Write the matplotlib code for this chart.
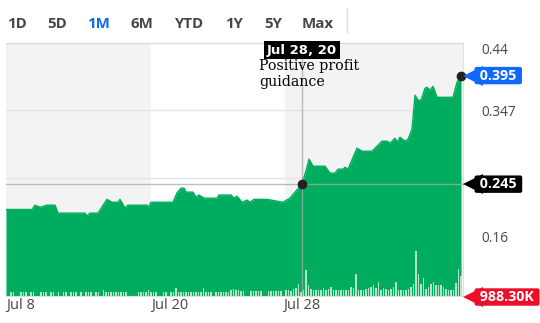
import matplotlib.pyplot as plt
import matplotlib.transforms as mtransforms
from matplotlib.lines import Line2D

# price path, x = trading-period index
t_price = [0, 10.4, 11.6, 13.6, 16.4, 19.6, 20.8, 31.6, 32.4, 33.6,
           36.8, 40.4, 42.4, 44.8, 45.6, 47.6, 48.8, 56.4, 56.8, 58,
           66.8, 68.4, 70, 71.2, 72, 74.8, 76, 77.2, 79.2, 84.4,
           85.2, 90, 91.2, 92.4, 94.4, 96.4, 97.6, 99.2, 104.4, 110.8,
           113.6, 115.6, 118.4, 120.4, 121.2, 122.8, 127.6, 129.6, 131.6, 132.8,
           134.8, 135.6, 136.8, 140.4, 142.4, 146.4, 150.4, 152.4, 153.6, 155.6,
           156.4, 157.6, 159.6, 160.8, 162.4, 163.6, 164.8, 166, 167.6, 168.4,
           169.6, 170.8, 172.4, 178.8, 180.4, 182]
price = [0.210, 0.210, 0.216, 0.213, 0.216, 0.216, 0.205, 0.205, 0.201, 0.205,
         0.205, 0.224, 0.220, 0.220, 0.224, 0.212, 0.216, 0.216, 0.212, 0.220,
         0.220, 0.233, 0.2395, 0.2395, 0.234, 0.234, 0.227, 0.230, 0.2257, 0.2257,
         0.230, 0.230, 0.2257, 0.2284, 0.220, 0.223, 0.220, 0.224, 0.224, 0.220,
         0.2257, 0.234, 0.245, 0.2684, 0.2795, 0.2698, 0.2698, 0.2602, 0.2602, 0.2657,
         0.2657, 0.2684, 0.2657, 0.2947, 0.2905, 0.2905, 0.3043, 0.3043, 0.3016, 0.3084,
         0.3029, 0.3098, 0.3043, 0.307, 0.3209, 0.3678, 0.3609, 0.3609, 0.3774, 0.3788,
         0.3747, 0.3802, 0.365, 0.365, 0.3857, 0.395]

# volume per period, thousands
volume_k = [0, 0, 180, 180, 0, 0, 180, 180, 180, 0,
            180, 180, 0, 0, 180, 180, 180, 0, 180, 180,
            0, 180, 0, 180, 180, 0, 180, 180, 180, 0,
            180, 0, 180, 180, 180, 0, 180, 180, 0, 300,
            180, 180, 180, 180, 180, 180, 180, 180, 180, 0,
            0, 0, 0, 180, 180, 180, 180, 300, 180, 180,
            180, 0, 0, 180, 180, 0, 180, 180, 380, 180,
            180, 180, 180, 180, 180, 180, 180, 180, 180, 380,
            180, 180, 180, 0, 180, 180, 180, 180, 180, 180,
            310, 360, 280, 280, 250, 250, 0, 0, 230, 230,
            230, 230, 230, 0, 0, 230, 230, 230, 230, 230,
            230, 0, 280, 280, 230, 350, 410, 580, 200, 310,
            1270, 530, 360, 280, 280, 280, 310, 410, 280, 360,
            445, 280, 280, 280, 310, 280, 280, 310, 445, 410,
            1100, 280, 280, 280, 350, 410, 445, 530, 410, 690,
            280, 410, 360, 310, 360, 445, 690, 280, 280, 280,
            280, 360, 445, 610, 2220, 1100, 610, 900, 360, 445,
            610, 690, 530, 530, 530, 445, 360, 310, 280, 280,
            640, 1350, 988.3]

range_labels = ["1D", "5D", "1M", "6M", "YTD", "1Y", "5Y", "Max"]
xtick_pos = [6, 65.6, 118.4]
xtick_labels = ["Jul 8", "Jul 20", "Jul 28"]
ytick_vals = [0.16, 0.253, 0.347, 0.44]
ytick_labels = ["0.16", "", "0.347", "0.44"]

event_x, event_y = 118.4, 0.245
event_date = "Jul 28, 20"
event_text = "Positive profit\nguidance"
last_price = 0.395
last_volume = "988.30K"

GREEN = "#00ad5f"
TXT = "#464646"
BLUE = "#0f69ff"
RED = "#eb0f29"

plt.rcParams["font.family"] = ["Open Sans", "DejaVu Sans"]

fig = plt.figure(figsize=(5.4, 3.23), dpi=100)
fig.patch.set_facecolor("white")
ax = fig.add_axes([6 / 540, 27 / 323, 457 / 540, 253 / 323])
ax.set_xlim(0, 182.8)
ax.set_ylim(0.0905, 0.44)

# shaded sessions
ax.axvspan(0, 58, color="#f3f3f3", lw=0, zorder=0)
ax.axvspan(111.6, 182.8, color="#f3f3f3", lw=0, zorder=0)

ax.fill_between(t_price, price, 0, color=GREEN, lw=0, zorder=2)
ax.plot(t_price, price, color=GREEN, lw=1, zorder=2)

ax.spines["left"].set_visible(False)
ax.spines["top"].set_color("#d8d8d8")
ax.spines["right"].set_color("#e2e2e2")
ax.spines["bottom"].set_color("#d6e4dc")

# volume on its own scale
ax2 = ax.twinx()
ax2.bar(range(len(volume_k)), volume_k, width=0.45, color="#b5e5c8", lw=0, zorder=3)
ax2.set_yticks([])
for s in ax2.spines.values():
    s.set_visible(False)

# axis ticks (after twinx, which moves ticks left)
ax.set_yticks(ytick_vals, ytick_labels)
ax.grid(axis="y", color="#e4e4e4", lw=1, zorder=0.5)
ax.set_axisbelow(True)
ax.yaxis.tick_right()
ax.tick_params(axis="y", which="both", left=False, right=False, labelleft=False,
               labelright=True, pad=10, labelsize=9.8, labelcolor=TXT)
for tk, lab in zip(ax.yaxis.get_major_ticks(), ytick_labels):
    if lab == "0.44":
        tk.label2.set_va("top")
    elif lab == "0.16":
        tk.label2.set_va("bottom")

ax.set_xticks(xtick_pos, xtick_labels)
ax.tick_params(axis="x", length=0, pad=1.5, labelsize=10.5, labelcolor=TXT)

# crosshair and markers
ax2.axvline(event_x, color="#a8a8a8", alpha=0.75, lw=1, zorder=4)
ax2.plot([0, 182.8], [event_y, event_y], color="#a8a8a8", alpha=0.75, lw=1,
         transform=ax.transData, zorder=4, clip_on=False)
ax2.plot([event_x], [event_y], "o", ms=6, color="#222222", transform=ax.transData, zorder=5)
ax2.plot([t_price[-1]], [price[-1]], "o", ms=6, color="#222222", transform=ax.transData,
         zorder=5, clip_on=False)
ax2.set_xlim(0, 182.8)
ax2.set_ylim(0, 12500)

trans = mtransforms.blended_transform_factory(ax.transData, ax.transAxes)
ax2.text(event_x, 0.972, event_date, transform=trans, ha="center", va="center",
         color="white", fontsize=9.5, weight="bold", family=["Liberation Sans Narrow", "DejaVu Sans"],
         bbox=dict(boxstyle="square,pad=0.2", fc="black", ec="none"), zorder=6, clip_on=False)
fig.text(259 / 540, 1 - 59 / 323, event_text, family="DejaVu Serif", fontsize=10.2,
         va="top", ha="left", linespacing=1.15, color="black")

# right side tags
ytr = ax.get_yaxis_transform()
def tag(y, text, color, trans_):
    ax2.plot([1.021], [y], marker="<", ms=15, color=color, transform=trans_,
             clip_on=False, zorder=6, mew=0)
    ax2.text(1.029, y, " " + text + " ", transform=trans_, ha="left", va="center",
             color="white", fontsize=10.3, weight="bold",
             bbox=dict(boxstyle="round,pad=0.12,rounding_size=0.15", fc=color, ec="none"),
             clip_on=False, zorder=7)

tag(last_price, "%.3f" % last_price, BLUE, ytr)
tag(event_y, "%.3f" % event_y, "black", ytr)
tag(-0.004, last_volume, RED, ax.transAxes)

# range selector
range_x = [17, 57, 99, 142, 189, 234, 273, 318]
for lab, xp in zip(range_labels, range_x):
    fig.text(xp / 540, 1 - 28 / 323, lab, ha="center", va="baseline", fontsize=10.8,
             weight="bold", color=BLUE if lab == "1M" else TXT)
fig.add_artist(Line2D([347 / 540, 347 / 540], [1 - 8 / 323, 1 - 32 / 323],
                      color="#e0e0e0", lw=1))

fig.savefig("out.png", dpi=100)
